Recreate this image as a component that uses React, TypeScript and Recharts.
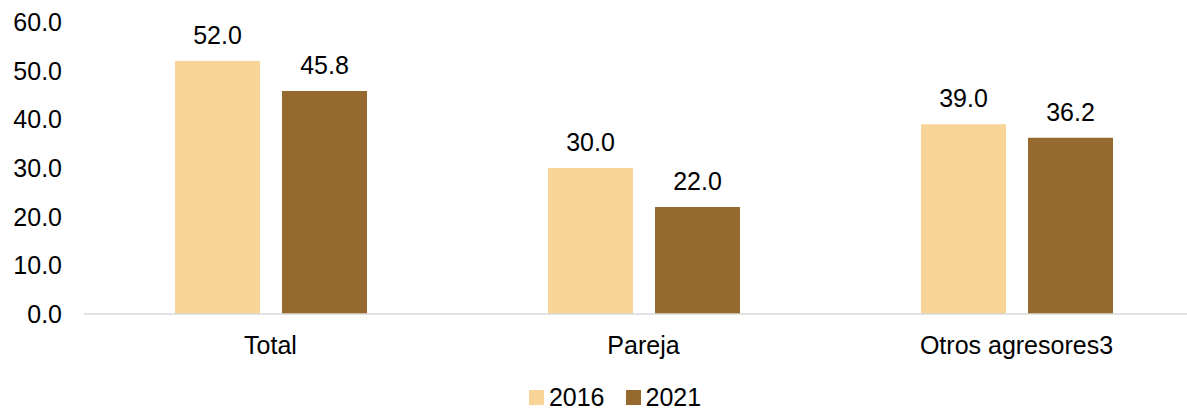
import React from 'react';
import { BarChart, Bar, XAxis, YAxis, Legend, LabelList } from 'recharts';

const categories = ['Total', 'Pareja', 'Otros agresores3'];
const values2016 = [52.0, 30.0, 39.0];
const values2021 = [45.8, 22.0, 36.2];
const yTicks = [0, 10, 20, 30, 40, 50, 60];

const COLORS = { y2016: '#F8D497', y2021: '#96692E' };
const FONT = '"Liberation Sans", Arial, sans-serif';

const chartData = categories.map((name, i) => ({
  name,
  y2016: values2016[i],
  y2021: values2021[i]
}));

const LegendContent = () => (
  <div
    style={{
      display: 'flex',
      justifyContent: 'center',
      alignItems: 'center',
      height: 18,
      lineHeight: '18px',
      fontFamily: FONT,
      fontSize: 25,
      color: '#000'
    }}
  >
    {[
      { label: '2016', color: COLORS.y2016 },
      { label: '2021', color: COLORS.y2021 }
    ].map((item, i) => (
      <div key={item.label} style={{ display: 'flex', alignItems: 'center', marginLeft: i ? 21 : 0 }}>
        <span style={{ width: 15, height: 15, background: item.color, marginRight: 5, display: 'inline-block' }} />
        <span>{item.label}</span>
      </div>
    ))}
  </div>
);

const App: React.FC = () => {
  return (
    <div style={{ position: 'absolute', left: 0, top: 0, width: 1187, height: 411, overflow: 'hidden', background: '#fff' }}>
      <BarChart
        width={1211}
        height={411}
        data={chartData}
        margin={{ top: 22, right: 8, bottom: 29, left: 1 }}
        barSize={85}
        barGap={22}
      >
        <XAxis
          dataKey="name"
          height={50}
          tickLine={false}
          tickSize={0}
          tickMargin={22}
          axisLine={{ stroke: '#d9d9d9', strokeWidth: 1.5 }}
          tick={{ fill: '#000', fontSize: 25, fontFamily: FONT }}
        />
        <YAxis
          width={83}
          domain={[0, 60]}
          ticks={yTicks}
          interval={0}
          axisLine={false}
          tickLine={false}
          tickSize={0}
          tickMargin={22}
          tickFormatter={(v: number) => v.toFixed(1)}
          tick={{ fill: '#000', fontSize: 25, fontFamily: FONT }}
        />
        <Legend
          verticalAlign="bottom"
          content={<LegendContent />}
          wrapperStyle={{ top: 388, left: 0, width: 1230, bottom: 'auto' }}
        />
        <Bar dataKey="y2016" name="2016" fill={COLORS.y2016} isAnimationActive={false}>
          <LabelList
            dataKey="y2016"
            position="top"
            offset={17}
            formatter={(v: any) => Number(v).toFixed(1)}
            style={{ fill: '#000', fontSize: 25, fontFamily: FONT }}
          />
        </Bar>
        <Bar dataKey="y2021" name="2021" fill={COLORS.y2021} isAnimationActive={false}>
          <LabelList
            dataKey="y2021"
            position="top"
            offset={17}
            formatter={(v: any) => Number(v).toFixed(1)}
            style={{ fill: '#000', fontSize: 25, fontFamily: FONT }}
          />
        </Bar>
      </BarChart>
    </div>
  );
};

export default App;
